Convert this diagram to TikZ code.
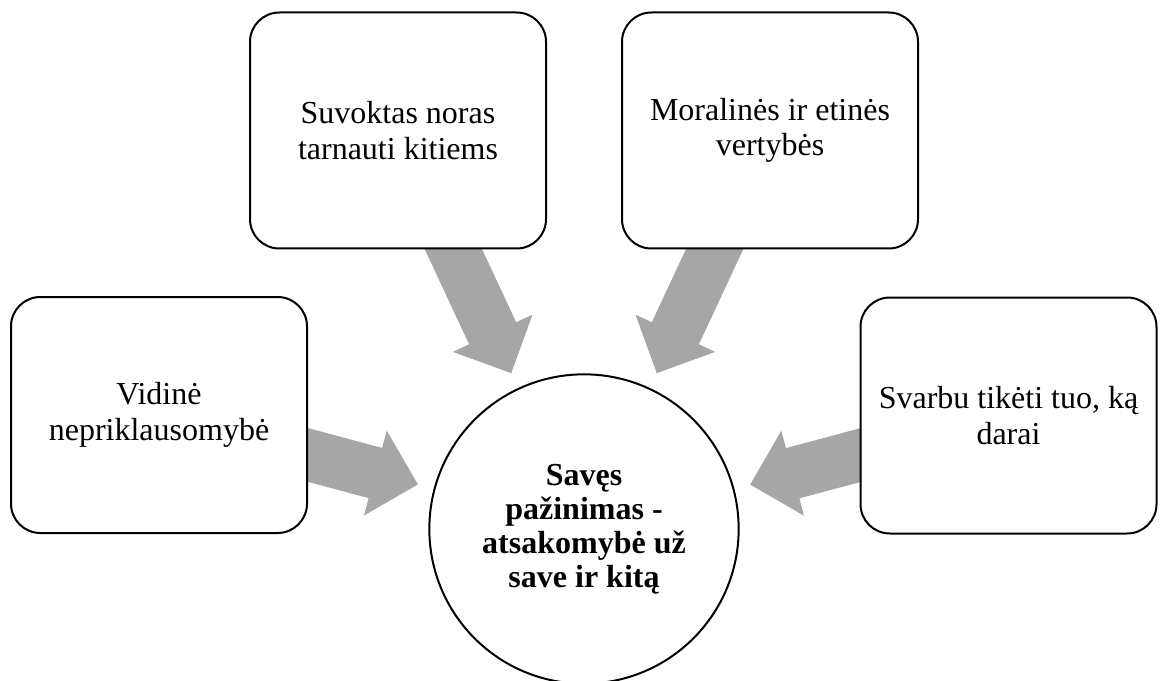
\documentclass[tikz,border=0pt]{standalone}
\usepackage{fontspec}
\setmainfont{Liberation Serif}
\usetikzlibrary{calc,backgrounds}
\definecolor{arrowgray}{RGB}{166,166,166}

\begin{document}
\begin{tikzpicture}[x=0.75pt,y=-0.75pt,
  box/.style={rectangle,minimum width=222pt,minimum height=177pt,
              text centered,align=center,draw=black,line width=1.5pt,fill=white,
              font=\fontsize{24}{26.5}\selectfont,rounded corners=22pt},
  hub/.style={circle,minimum size=232pt,inner sep=0pt,align=center,
              draw=black,line width=1.5pt,fill=white,
              font=\fontsize{24}{25.5}\selectfont\bfseries}]

  \useasboundingbox (0,0) rectangle (1161,681);

  \node (cen) [hub] at (584,529)
    {Savęs\\pažinimas -\\atsakomybė už\\save ir kitą};
  \node (vid) [box] at (159,415)
    {Vidinė\\nepriklausomybė};
  \node (suv) [box] at (398,130.5)
    {Suvoktas noras\\tarnauti kitiems};
  \node (mor) [box] at (770,130.5)
    {Moralinės ir etinės\\vertybės};
  \node (sva) [box] at (1008.5,415.5)
    {Svarbu tikėti tuo, ką\\darai};

  % block arrows towards the centre
  \begin{scope}[on background layer]
    \foreach \b in {vid,suv,mor,sva}{
      \coordinate (tip) at ($(cen.center)!129pt!(\b.center)$);
      \coordinate (neck) at ($(tip)!33pt!(\b.center)$);
      \fill[arrowgray] ($(\b.center)!19.5pt!90:(tip)$)
        -- ($(neck)!19.5pt!90:(tip)$) -- ($(neck)!33pt!90:(tip)$)
        -- (tip)
        -- ($(neck)!33pt!-90:(tip)$) -- ($(neck)!19.5pt!-90:(tip)$)
        -- ($(\b.center)!19.5pt!-90:(tip)$) -- cycle;
    }
  \end{scope}
\end{tikzpicture}
\end{document}
